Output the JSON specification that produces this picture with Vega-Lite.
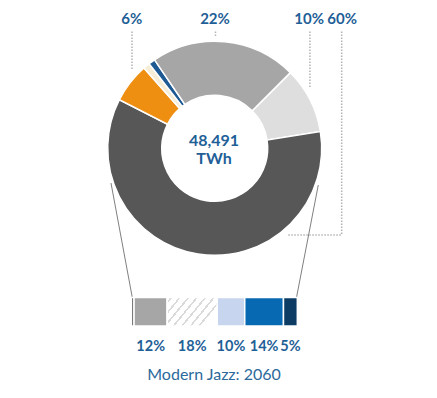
{
  "$schema": "https://vega.github.io/schema/vega-lite/v6.json",
  "width": 437,
  "height": 398,
  "autosize": {"type": "fit", "contains": "padding"},
  "padding": 0,
  "background": "white",
  "config": {
    "view": {"stroke": null},
    "font": "Lato",
    "axis": {"disable": true},
    "legend": {"disable": true}
  },
  "datasets": {
    "mix": [
      {"source": "Segment B", "share": 10, "order": 1},
      {"source": "Segment A", "share": 60, "order": 2},
      {"source": "Segment F", "share": 6, "order": 3},
      {"source": "Segment E", "share": 1, "order": 4},
      {"source": "Segment D", "share": 1, "order": 5},
      {"source": "Segment C", "share": 22, "order": 6}
    ],
    "breakdown": [
      {"part": "Part 0", "share": 1, "order": 1, "label": ""},
      {"part": "Part 1", "share": 12, "order": 2, "label": "12%"},
      {"part": "Part 2", "share": 18, "order": 3, "label": "18%"},
      {"part": "Part 3", "share": 10, "order": 4, "label": "10%"},
      {"part": "Part 4", "share": 14, "order": 5, "label": "14%"},
      {"part": "Part 5", "share": 5, "order": 6, "label": "5%"}
    ],
    "one": [{}]
  },
  "layer": [
    {
      "data": {"name": "one"},
      "mark": {"type": "rule", "color": "#808080", "strokeWidth": 1},
      "encoding": {
        "x": {"datum": -7.34, "type": "quantitative", "scale": {"domain": [-47.45, 110.48], "nice": false, "zero": false}},
        "x2": {"datum": 0.36},
        "y": {"datum": 183, "type": "quantitative", "scale": {"domain": [0, 398], "reverse": true, "nice": false, "zero": false}},
        "y2": {"datum": 297.5}
      }
    },
    {
      "data": {"name": "one"},
      "mark": {"type": "rule", "color": "#808080", "strokeWidth": 1},
      "encoding": {
        "x": {"datum": 67.58, "type": "quantitative"},
        "x2": {"datum": 59.7},
        "y": {"datum": 185, "type": "quantitative"},
        "y2": {"datum": 297.5}
      }
    },
    {
      "data": {"name": "one"},
      "mark": {"type": "rule", "color": "#b3b3b3", "strokeWidth": 1.5, "strokeDash": [1.5, 1.5]},
      "encoding": {
        "x": {"datum": 0.25, "type": "quantitative"},
        "x2": {"datum": 0.25},
        "y": {"datum": 31.5, "type": "quantitative"},
        "y2": {"datum": 70}
      }
    },
    {
      "data": {"name": "one"},
      "mark": {"type": "rule", "color": "#b3b3b3", "strokeWidth": 1.5, "strokeDash": [1.5, 1.5]},
      "encoding": {
        "x": {"datum": 30.43, "type": "quantitative"},
        "x2": {"datum": 30.43},
        "y": {"datum": 31.5, "type": "quantitative"},
        "y2": {"datum": 37}
      }
    },
    {
      "data": {"name": "one"},
      "mark": {"type": "rule", "color": "#b3b3b3", "strokeWidth": 1.5, "strokeDash": [1.5, 1.5]},
      "encoding": {
        "x": {"datum": 64.55, "type": "quantitative"},
        "x2": {"datum": 64.55},
        "y": {"datum": 31.5, "type": "quantitative"},
        "y2": {"datum": 88}
      }
    },
    {
      "data": {"name": "one"},
      "mark": {"type": "rule", "color": "#b3b3b3", "strokeWidth": 1.5, "strokeDash": [1.5, 1.5]},
      "encoding": {
        "x": {"datum": 76.04, "type": "quantitative"},
        "x2": {"datum": 76.04},
        "y": {"datum": 31.5, "type": "quantitative"},
        "y2": {"datum": 235}
      }
    },
    {
      "data": {"name": "one"},
      "mark": {"type": "rule", "color": "#b3b3b3", "strokeWidth": 1.5, "strokeDash": [1.5, 1.5]},
      "encoding": {
        "x": {"datum": 56.74, "type": "quantitative"},
        "x2": {"datum": 76.04},
        "y": {"datum": 235, "type": "quantitative"},
        "y2": {"datum": 235}
      }
    },
    {
      "data": {"name": "mix"},
      "transform": [
        {"stack": "share", "groupby": [], "sort": [{"field": "order"}], "as": ["a0", "a1"]}
      ],
      "mark": {"type": "arc", "innerRadius": 53, "outerRadius": 107, "stroke": "white", "strokeWidth": 1.5},
      "encoding": {
        "x": {"datum": 30.14, "type": "quantitative"},
        "y": {"datum": 148.3, "type": "quantitative"},
        "theta": {"field": "a0", "type": "quantitative", "scale": {"domain": [0, 100], "range": [0.7854, 7.0686]}},
        "theta2": {"field": "a1"},
        "color": {
          "field": "source",
          "type": "nominal",
          "scale": {
            "domain": ["Segment A", "Segment B", "Segment C", "Segment D", "Segment E", "Segment F"],
            "range": ["#575757", "#dedede", "#a6a6a6", "#1d5a94", "#f5edd5", "#ee8f12"]
          }
        }
      }
    },
    {
      "data": {"name": "one"},
      "mark": {"type": "text", "font": "Lato", "fontWeight": "bold", "fontSize": 16, "color": "#1f5f97", "baseline": "middle", "align": "center"},
      "encoding": {
        "x": {"datum": 29.9, "type": "quantitative"},
        "y": {"datum": 141, "type": "quantitative"},
        "text": {"datum": "48,491"}
      }
    },
    {
      "data": {"name": "one"},
      "mark": {"type": "text", "font": "Lato", "fontWeight": "bold", "fontSize": 16, "color": "#1f5f97", "baseline": "middle", "align": "center"},
      "encoding": {
        "x": {"datum": 29.9, "type": "quantitative"},
        "y": {"datum": 158.5, "type": "quantitative"},
        "text": {"datum": "TWh"}
      }
    },
    {
      "data": {"name": "one"},
      "mark": {"type": "text", "font": "Lato", "fontWeight": "bold", "fontSize": 15, "color": "#1f5f97", "baseline": "middle", "align": "center"},
      "encoding": {
        "x": {"datum": 0.14, "type": "quantitative"},
        "y": {"datum": 18.5, "type": "quantitative"},
        "text": {"datum": "6%"}
      }
    },
    {
      "data": {"name": "one"},
      "mark": {"type": "text", "font": "Lato", "fontWeight": "bold", "fontSize": 15, "color": "#1f5f97", "baseline": "middle", "align": "center"},
      "encoding": {
        "x": {"datum": 30.25, "type": "quantitative"},
        "y": {"datum": 18.5, "type": "quantitative"},
        "text": {"datum": "22%"}
      }
    },
    {
      "data": {"name": "one"},
      "mark": {"type": "text", "font": "Lato", "fontWeight": "bold", "fontSize": 15, "color": "#1f5f97", "baseline": "middle", "align": "center"},
      "encoding": {
        "x": {"datum": 64.3, "type": "quantitative"},
        "y": {"datum": 18.5, "type": "quantitative"},
        "text": {"datum": "10%"}
      }
    },
    {
      "data": {"name": "one"},
      "mark": {"type": "text", "font": "Lato", "fontWeight": "bold", "fontSize": 15, "color": "#1f5f97", "baseline": "middle", "align": "center"},
      "encoding": {
        "x": {"datum": 76.2, "type": "quantitative"},
        "y": {"datum": 18.5, "type": "quantitative"},
        "text": {"datum": "60%"}
      }
    },
    {
      "data": {"name": "breakdown"},
      "transform": [
        {"stack": "share", "groupby": [], "sort": [{"field": "order"}], "as": ["b0", "b1"]}
      ],
      "layer": [
        {
          "mark": {"type": "bar", "stroke": "white", "strokeWidth": 1.5},
          "encoding": {
            "x": {"field": "b0", "type": "quantitative"},
            "x2": {"field": "b1"},
            "y": {"datum": 297.5, "type": "quantitative"},
            "y2": {"datum": 326},
            "color": {
              "field": "part",
              "type": "nominal",
              "scale": {
                "domain": ["Part 0", "Part 1", "Part 2", "Part 3", "Part 4", "Part 5"],
                "range": ["#747474", "#a6a6a6", "#ffffff", "#c8d5ee", "#0869b3", "#0c3c63"]
              }
            }
          }
        },
        {
          "transform": [{"filter": "datum.part == 'Part 2'"}],
          "mark": {
            "type": "bar",
            "stroke": "white",
            "strokeWidth": 1.5,
            "fill": {
              "gradient": "linear",
              "x1": 0, "y1": 0, "x2": 1, "y2": 0.47,
              "stops": [
                {"offset": 0, "color": "#ffffff"},
                {"offset": 0.05, "color": "#ffffff"}, {"offset": 0.05, "color": "#dadada"}, {"offset": 0.085, "color": "#dadada"}, {"offset": 0.085, "color": "#ffffff"},
                {"offset": 0.19, "color": "#ffffff"}, {"offset": 0.19, "color": "#dadada"}, {"offset": 0.225, "color": "#dadada"}, {"offset": 0.225, "color": "#ffffff"},
                {"offset": 0.33, "color": "#ffffff"}, {"offset": 0.33, "color": "#dadada"}, {"offset": 0.365, "color": "#dadada"}, {"offset": 0.365, "color": "#ffffff"},
                {"offset": 0.47, "color": "#ffffff"}, {"offset": 0.47, "color": "#dadada"}, {"offset": 0.505, "color": "#dadada"}, {"offset": 0.505, "color": "#ffffff"},
                {"offset": 0.61, "color": "#ffffff"}, {"offset": 0.61, "color": "#dadada"}, {"offset": 0.645, "color": "#dadada"}, {"offset": 0.645, "color": "#ffffff"},
                {"offset": 0.75, "color": "#ffffff"}, {"offset": 0.75, "color": "#dadada"}, {"offset": 0.785, "color": "#dadada"}, {"offset": 0.785, "color": "#ffffff"},
                {"offset": 0.89, "color": "#ffffff"}, {"offset": 0.89, "color": "#dadada"}, {"offset": 0.925, "color": "#dadada"}, {"offset": 0.925, "color": "#ffffff"},
                {"offset": 1, "color": "#ffffff"}
              ]
            }
          },
          "encoding": {
            "x": {"field": "b0", "type": "quantitative"},
            "x2": {"field": "b1"},
            "y": {"datum": 297.5, "type": "quantitative"},
            "y2": {"datum": 326}
          }
        },
        {
          "transform": [
            {"filter": "datum.label != ''"},
            {"fold": ["b0", "b1"], "as": ["edge", "pos"]}
          ],
          "mark": {"type": "text", "font": "Lato", "fontWeight": "bold", "fontSize": 14.5, "color": "#1f5f97", "baseline": "middle", "align": "center"},
          "encoding": {
            "x": {"aggregate": "mean", "field": "pos", "type": "quantitative"},
            "y": {"datum": 347, "type": "quantitative"},
            "detail": {"field": "part"},
            "text": {"field": "label"}
          }
        }
      ]
    },
    {
      "data": {"name": "one"},
      "mark": {"type": "text", "font": "Lato", "fontSize": 16, "color": "#2c6a9c", "baseline": "middle", "align": "center"},
      "encoding": {
        "x": {"datum": 29.9, "type": "quantitative"},
        "y": {"datum": 375, "type": "quantitative"},
        "text": {"datum": "Modern Jazz: 2060"}
      }
    }
  ],
  "resolve": {"scale": {"color": "independent"}}
}
